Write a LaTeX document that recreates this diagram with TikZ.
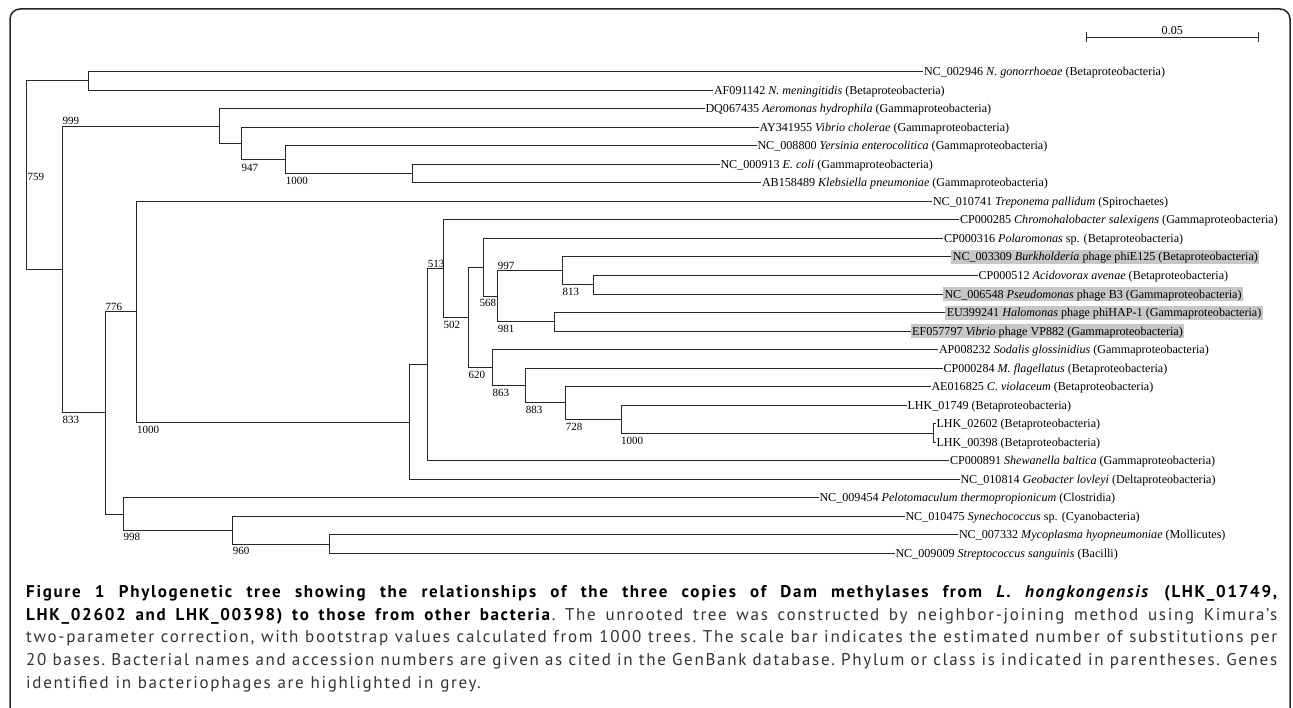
\documentclass[tikz,border=0pt]{standalone}
\usepackage{fontspec}
\setmainfont{Liberation Serif}
\newfontfamily\capfont[LetterSpace=10]{PT Sans}
\newcommand\capline[1]{\hbox to 1251pt{\frenchspacing\spaceskip=0.4em plus 3em minus 0.15em\relax #1}}
\newcommand\caplast[1]{\hbox{\frenchspacing\spaceskip=0.4em\relax #1}}
\tikzset{
  br/.style={line width=1pt, draw=black!85},
  framebox/.style={line width=1.5pt, draw=black!85, rounded corners=10pt},
  leaf/.style={anchor=west, inner xsep=1pt, inner ysep=0pt, outer sep=0pt,
    text height=8pt, text depth=0pt, font=\fontsize{12.1}{14}\selectfont},
  hl/.style={leaf, fill=black!22, inner xsep=1.5pt, text height=10.5pt, text depth=2.5pt, inner ysep=0.5pt},
  bs/.style={anchor=base west, inner sep=0pt, font=\fontsize{11}{13}\selectfont},
  captext/.style={anchor=base west, inner sep=0pt, font=\capfont\fontsize{17}{20}\selectfont},
}
\begin{document}
\begin{tikzpicture}[x=1pt,y=-1pt]
\useasboundingbox (0,0) rectangle (1293,708);
% frame
\draw[framebox] (10,712) -- (10,9) -- (1290,9) -- (1290,712);

% internal nodes
\coordinate (R)  at (26.3,175.25);
\coordinate (Ne) at (88.3,80.97);
\coordinate (A)  at (62.3,269.53);
\coordinate (G)  at (219.3,126.13);
\coordinate (G2) at (241.3,143.5);
\coordinate (G3) at (285.7,159.72);
\coordinate (G4) at (412.3,173.62);
\coordinate (B)  at (105.3,412.92);
\coordinate (C)  at (136.5,311.74);
\coordinate (D)  at (409.7,422.07);
\coordinate (E)  at (427.7,364.78);
\coordinate (H)  at (443.3,268.73);
\coordinate (I)  at (468.3,317.52);
\coordinate (J)  at (483.7,267.43);
\coordinate (K)  at (497.7,296.38);
\coordinate (L)  at (562.3,270.9);
\coordinate (L2) at (593,284.8);
\coordinate (M)  at (554.3,321.86);
\coordinate (N)  at (492.3,367.6);
\coordinate (O)  at (525.7,385.56);
\coordinate (P)  at (565.7,402.93);
\coordinate (Q)  at (621,419.14);
\coordinate (S)  at (933.7,433.04);
\coordinate (F)  at (123.3,514.1);
\coordinate (T)  at (232.7,530.32);
\coordinate (U)  at (329.7,544.22);

% leaves
\node[leaf] (t1) at (923,71.7) {NC\_002946 \textit{N. gonorrhoeae} (Betaproteobacteria)};
\node[leaf] (t2) at (713,90.23) {AF091142 \textit{N. meningitidis} (Betaproteobacteria)};
\node[leaf] (t3) at (704.5,108.76) {DQ067435 \textit{Aeromonas hydrophila} (Gammaproteobacteria)};
\node[leaf] (t4) at (758.5,127.29) {AY341955 \textit{Vibrio cholerae} (Gammaproteobacteria)};
\node[leaf] (t5) at (756.5,145.82) {NC\_008800 \textit{Yersinia enterocolitica} (Gammaproteobacteria)};
\node[leaf] (t6) at (719.5,164.35) {NC\_000913 \textit{E. coli} (Gammaproteobacteria)};
\node[leaf] (t7) at (761,182.88) {AB158489 \textit{Klebsiella pneumoniae} (Gammaproteobacteria)};
\node[leaf] (t8) at (932,201.41) {NC\_010741 \textit{Treponema pallidum} (Spirochaetes)};
\node[leaf] (t9) at (959,219.94) {CP000285 \textit{Chromohalobacter salexigens} (Gammaproteobacteria)};
\node[leaf] (t10) at (943,238.47) {CP000316 \textit{Polaromonas} sp. (Betaproteobacteria)};
\node[hl] (t11) at (951.3,257.0) {NC\_003309 \textit{Burkholderia} phage phiE125 (Betaproteobacteria)};
\node[leaf] (t12) at (977.5,275.53) {CP000512 \textit{Acidovorax avenae} (Betaproteobacteria)};
\node[hl] (t13) at (943,294.06) {NC\_006548 \textit{Pseudomonas} phage B3 (Gammaproteobacteria)};
\node[hl] (t14) at (945.3,312.59) {EU399241 \textit{Halomonas} phage phiHAP-1 (Gammaproteobacteria)};
\node[hl] (t15) at (910.7,331.12) {EF057797 \textit{Vibrio} phage VP882 (Gammaproteobacteria)};
\node[leaf] (t16) at (938,349.65) {AP008232 \textit{Sodalis glossinidius} (Gammaproteobacteria)};
\node[leaf] (t17) at (942.5,368.18) {CP000284 \textit{M. flagellatus} (Betaproteobacteria)};
\node[leaf] (t18) at (930.5,386.71) {AE016825 \textit{C. violaceum} (Betaproteobacteria)};
\node[leaf] (t19) at (906.5,405.24) {LHK\_01749 (Betaproteobacteria)};
\node[leaf] (t20) at (935.5,423.77) {LHK\_02602 (Betaproteobacteria)};
\node[leaf] (t21) at (935.5,442.3) {LHK\_00398 (Betaproteobacteria)};
\node[leaf] (t22) at (949,460.83) {CP000891 \textit{Shewanella baltica} (Gammaproteobacteria)};
\node[leaf] (t23) at (959.5,479.36) {NC\_010814 \textit{Geobacter lovleyi} (Deltaproteobacteria)};
\node[leaf] (t24) at (818.5,497.89) {NC\_009454 \textit{Pelotomaculum thermopropionicum} (Clostridia)};
\node[leaf] (t25) at (904.5,516.42) {NC\_010475 \textit{Synechococcus} sp. (Cyanobacteria)};
\node[leaf] (t26) at (958,534.95) {NC\_007332 \textit{Mycoplasma hyopneumoniae} (Mollicutes)};
\node[leaf] (t27) at (894.5,553.48) {NC\_009009 \textit{Streptococcus sanguinis} (Bacilli)};

% branches
\foreach \p/\c in {R/Ne, R/A, Ne/t1.west, Ne/t2.west, A/G, A/B,
  G/t3.west, G/G2, G2/t4.west, G2/G3, G3/t5.west, G3/G4, G4/t6.west, G4/t7.west,
  B/C, B/F, C/t8.west, C/D, D/E, D/t23.west, E/H, E/t22.west, H/t9.west, H/I,
  I/J, I/N, J/t10.west, J/K, K/L, K/M, L/t11.west, L/L2, L2/t12.west, L2/t13.west,
  M/t14.west, M/t15.west, N/t16.west, N/O, O/t17.west, O/P, P/t18.west, P/Q,
  Q/t19.west, Q/S, S/t20.west, S/t21.west,
  F/t24.west, F/T, T/t25.west, T/U, U/t26.west, U/t27.west}
  \draw[br] (\p) |- (\c);

% bootstrap values
\node[bs] (b759) at (27.3,181) {759};
\node[bs] (b999) at (62.3,125) {999};
\node[bs] (b947) at (241.3,171.2) {947};
\node[bs] (b1000a) at (285.7,184.4) {1000};
\node[bs] (b776) at (105.3,310.7) {776};
\node[bs] (b833) at (62.3,423.9) {833};
\node[bs] (b1000b) at (137,433) {1000};
\node[bs] (b998) at (123.3,540.5) {998};
\node[bs] (b960) at (232.7,554.7) {960};
\node[bs] (b513) at (427.7,267.7) {513};
\node[bs] (b502) at (443.3,328.5) {502};
\node[bs] (b997) at (497.7,269.9) {997};
\node[bs] (b568) at (479.3,306.9) {568};
\node[bs] (b813) at (562.3,295.8) {813};
\node[bs] (b981) at (497.7,332.9) {981};
\node[bs] (b620) at (468.3,378.6) {620};
\node[bs] (b863) at (492.3,397) {863};
\node[bs] (b883) at (525.7,413.9) {883};
\node[bs] (b728) at (565.7,430.1) {728};
\node[bs] (b1000c) at (621,444) {1000};

% scale bar
\coordinate (sbL) at (1086.3,37.3);
\coordinate (sbR) at (1258,37.3);
\draw[br] (sbL) -- (sbR);
\draw[br] ([yshift=-5pt]sbL) -- ([yshift=5pt]sbL);
\draw[br] ([yshift=-5pt]sbR) -- ([yshift=5pt]sbR);
\node[anchor=base, inner sep=0pt, font=\fontsize{12.1}{14}\selectfont] (sbt) at (1172.3,34.5) {0.05};

% caption
\node[captext] (cap1) at (26,597.3) {\capline{\bfseries Figure 1 Phylogenetic tree showing the relationships of the three copies of Dam methylases from \textit{L. hongkongensis} (LHK\_01749,}};
\node[captext] (cap2) at (26,620) {\capline{\textbf{LHK\_02602 and LHK\_00398) to those from other bacteria}\color{black!80}. The unrooted tree was constructed by neighbor-joining method using Kimura’s}};
\node[captext, text=black!80] (cap3) at (26,642.8) {\capline{two-parameter correction, with bootstrap values calculated from 1000 trees. The scale bar indicates the estimated number of substitutions per}};
\node[captext, text=black!80] (cap4) at (26,665.5) {\capline{20 bases. Bacterial names and accession numbers are given as cited in the GenBank database. Phylum or class is indicated in parentheses. Genes}};
\node[captext, text=black!80] (cap5) at (26,688.3) {\caplast{identified in bacteriophages are highlighted in grey.}};
\end{tikzpicture}
\end{document}
